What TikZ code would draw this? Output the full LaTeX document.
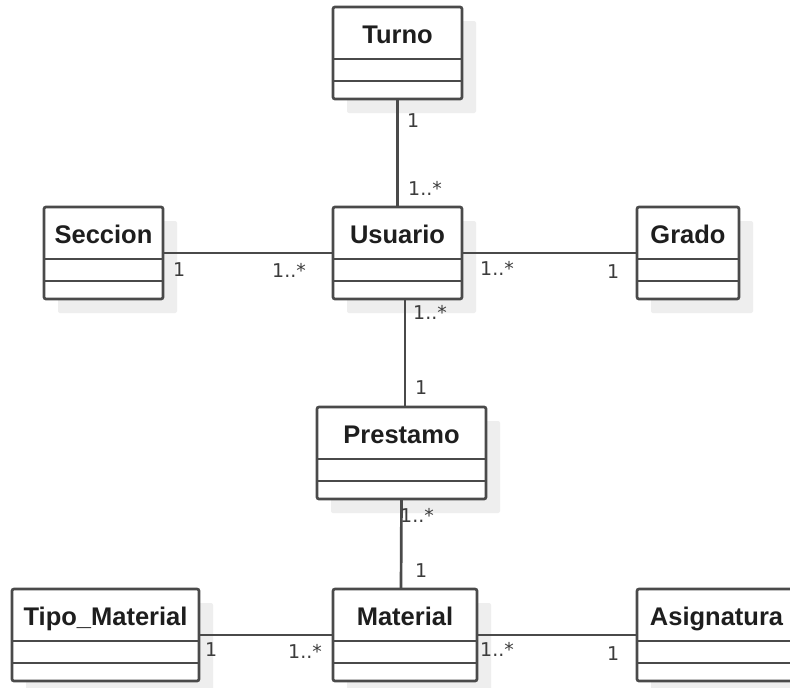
\documentclass[tikz,border=0pt]{standalone}
\usepackage{fontspec}
\setmainfont{Liberation Sans}
\newfontfamily\lblfont{DejaVu Sans}
\usetikzlibrary{shadows}
\definecolor{linec}{HTML}{4A4A4A}
\definecolor{textc}{HTML}{1E1E1E}
\definecolor{lblc}{HTML}{3C3C3C}
\definecolor{shadc}{HTML}{EEEEEE}
\tikzset{
  umlbox/.style={draw=linec, line width=2.7pt, fill=white, rounded corners=2pt,
    minimum height=92pt, inner sep=0pt, outer sep=0pt,
    drop shadow={shadow xshift=14pt, shadow yshift=-14pt, fill=shadc, opacity=1}},
  umlline/.style={draw=linec, line width=2.7pt},
  conn/.style={draw=linec, line width=2.7pt},
  titlec/.style={text=textc, inner sep=0pt, font=\fontsize{25.5}{29}\selectfont\bfseries},
  lbl/.style={text=lblc, inner sep=0pt, anchor=base west, font=\lblfont\fontsize{19}{22}\selectfont}
}
\newcommand\umlclass[5]{%
  \node[umlbox, minimum width=#4pt, anchor=north] (#1) at (#2,#3) {};
  \draw[umlline] ([yshift=-52pt]#1.north west) -- ([yshift=-52pt]#1.north east);
  \draw[umlline] ([yshift=-74pt]#1.north west) -- ([yshift=-74pt]#1.north east);
  \node[titlec, anchor=base] (#1-t) at ([yshift=-36pt]#1.north) {#5};
}
\begin{document}
\begin{tikzpicture}[x=1pt, y=-1pt]
  \clip (0,0) rectangle (790,688);
  \fill[white] (0,0) rectangle (790,688);
  % classes
  \umlclass{turno}{397.5}{7}{129}{Turno}
  \umlclass{seccion}{103.5}{207}{119}{Seccion}
  \umlclass{usuario}{397.5}{207}{129}{Usuario}
  \umlclass{grado}{688}{207}{102}{Grado}
  \umlclass{prestamo}{401.5}{407}{169}{Prestamo}
  \umlclass{tipo}{105.5}{589}{187}{Tipo\_Material}
  \umlclass{material}{405}{589}{144}{Material}
  \umlclass{asig}{716.5}{589}{159}{Asignatura}
  % connectors
  \draw[conn] (turno.south) -- (usuario.north);
  \draw[conn] (seccion.east) -- (usuario.west);
  \draw[conn] (usuario.east) -- (grado.west);
  \draw[conn] ([xshift=7.5pt]usuario.south) -- ([xshift=3.5pt]prestamo.north);
  \draw[conn] (prestamo.south) -- ([xshift=-4pt]material.north);
  \draw[conn] (tipo.east) -- (material.west);
  \draw[conn] (material.east) -- (asig.west);
  % multiplicities
  \node[lbl] (m1) at (407,127) {1};
  \node[lbl] (m2) at (408,195) {1..*};
  \node[lbl] (m3) at (173,276) {1};
  \node[lbl] (m4) at (272,277) {1..*};
  \node[lbl] (m5) at (480,275) {1..*};
  \node[lbl] (m6) at (607,278) {1};
  \node[lbl] (m7) at (413,319) {1..*};
  \node[lbl] (m8) at (415,394) {1};
  \node[lbl] (m9) at (400,522) {1..*};
  \node[lbl] (m10) at (415,577) {1};
  \node[lbl] (m11) at (205,656) {1};
  \node[lbl] (m12) at (288,658) {1..*};
  \node[lbl] (m13) at (480,656) {1..*};
  \node[lbl] (m14) at (607,660) {1};
\end{tikzpicture}
\end{document}
